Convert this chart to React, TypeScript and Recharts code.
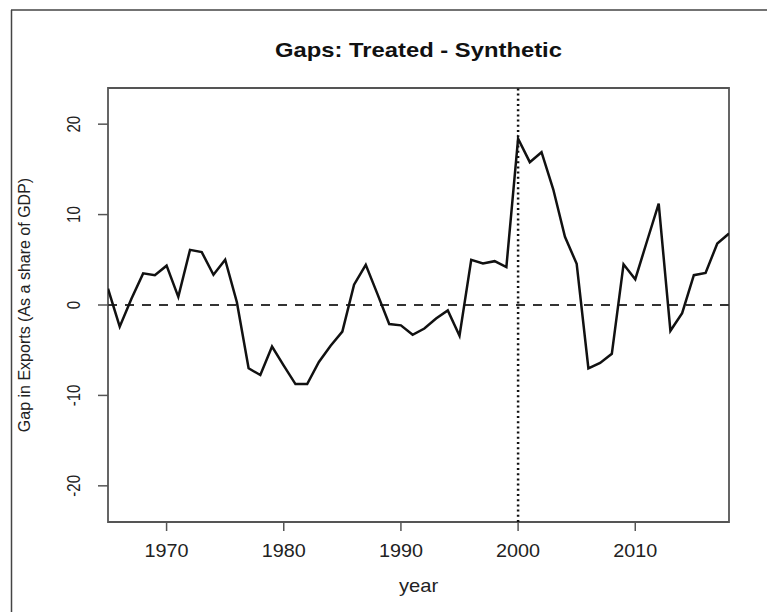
import { LineChart, Line, XAxis, YAxis, ReferenceLine, ReferenceArea } from "recharts";

const years = [
  1965, 1966, 1967, 1968, 1969, 1970, 1971, 1972, 1973, 1974,
  1975, 1976, 1977, 1978, 1979, 1980, 1981, 1982, 1983, 1984,
  1985, 1986, 1987, 1988, 1989, 1990, 1991, 1992, 1993, 1994,
  1995, 1996, 1997, 1998, 1999, 2000, 2001, 2002, 2003, 2004,
  2005, 2006, 2007, 2008, 2009, 2010, 2011, 2012, 2013, 2014,
  2015, 2016, 2017, 2018,
];

// gap in exports, treated minus synthetic (share of GDP)
const gaps = [
  1.8, -2.4, 0.7, 3.5, 3.3, 4.35, 0.9, 6.1, 5.85, 3.35,
  5.0, 0.3, -7.0, -7.75, -4.6, -6.7, -8.75, -8.75, -6.3, -4.5,
  -2.95, 2.25, 4.45, 1.2, -2.1, -2.25, -3.3, -2.6, -1.5, -0.6,
  -3.4, 5.0, 4.6, 4.85, 4.2, 18.4, 15.8, 16.9, 12.8, 7.55,
  4.55, -7.0, -6.4, -5.4, 4.5, 2.85, 7.05, 11.2, -2.85, -0.9,
  3.3, 3.55, 6.8, 7.9,
];

const xTicks = [1970, 1980, 1990, 2000, 2010];
const yTicks = [-20, -10, 0, 10, 20];
const xDomain = [1965, 2018];
const yDomain = [-24, 24];
const treatmentYear = 2000;

const data = years.map((year, i) => ({ year, gap: gaps[i] }));

const FONT = '"Liberation Sans", Arial, sans-serif';
const INK = "#222";

const XTick = (props: any) => {
  const { x, y, payload } = props;
  return (
    <text
      transform={`translate(${x},${y + 25.5}) scale(1.1,1)`}
      textAnchor="middle"
      fontFamily={FONT}
      fontSize={18}
      fill={INK}
    >
      {payload.value}
    </text>
  );
};

const YTick = (props: any) => {
  const { x, y, payload } = props;
  return (
    <text
      transform={`translate(${x - 18},${y}) scale(1.25,1) rotate(-90)`}
      textAnchor="middle"
      fontFamily={FONT}
      fontSize={15}
      fill={INK}
    >
      {payload.value}
    </text>
  );
};

export default function App() {
  return (
    <div
      style={{
        position: "fixed",
        left: 0,
        top: 0,
        width: 767,
        height: 612,
        background: "#fff",
      }}
    >
      <svg
        width={767}
        height={612}
        style={{ position: "absolute", left: 0, top: 0, pointerEvents: "none" }}
      >
        <line x1={11.5} y1={10} x2={11.5} y2={612} stroke="#444" strokeWidth={1.5} />
        <line x1={11} y1={10} x2={767} y2={10} stroke="#444" strokeWidth={1.5} />
        <text
          transform="translate(418.5,57.3) scale(1.22,1)"
          textAnchor="middle"
          fontFamily={FONT}
          fontWeight="bold"
          fontSize={19.5}
          fill="#111"
        >
          Gaps: Treated - Synthetic
        </text>
      </svg>
      <LineChart
        width={767}
        height={612}
        data={data}
        margin={{ top: 88, right: 38, bottom: 0, left: 0 }}
        style={{ position: "absolute", left: 0, top: 0 }}
      >
        <XAxis
          dataKey="year"
          type="number"
          domain={xDomain}
          ticks={xTicks}
          allowDataOverflow
          height={90}
          axisLine={false}
          tickSize={9}
          tickMargin={0}
          tickLine={{ stroke: "#555", strokeWidth: 1.5 }}
          tick={<XTick />}
          label={{
            content: (p: any) => {
              const vb = p.viewBox || { x: 108, y: 522, width: 621 };
              return (
                <text
                  transform={`translate(${vb.x + vb.width / 2},${vb.y + 70.3}) scale(1.12,1)`}
                  textAnchor="middle"
                  fontFamily={FONT}
                  fontSize={18}
                  fill={INK}
                >
                  year
                </text>
              );
            },
          }}
        />
        <YAxis
          type="number"
          domain={yDomain}
          ticks={yTicks}
          allowDataOverflow
          width={108}
          axisLine={false}
          tickSize={10}
          tickMargin={0}
          tickLine={{ stroke: "#555", strokeWidth: 1.5 }}
          tick={<YTick />}
          label={{
            content: (p: any) => {
              const vb = p.viewBox || { x: 0, y: 88, width: 108, height: 434 };
              return (
                <text
                  transform={`translate(29.5,${vb.y + vb.height / 2}) rotate(-90)`}
                  textAnchor="middle"
                  fontFamily={FONT}
                  fontSize={16}
                  fill={INK}
                >
                  Gap in Exports (As a share of GDP)
                </text>
              );
            },
          }}
        />
        <ReferenceArea
          x1={xDomain[0]}
          x2={xDomain[1]}
          y1={yDomain[0]}
          y2={yDomain[1]}
          fill="none"
          stroke="#555"
          strokeWidth={1.8}
          ifOverflow="visible"
        />
        <ReferenceLine y={0} stroke="#333" strokeWidth={2.2} strokeDasharray="9 8" />
        <ReferenceLine x={treatmentYear} stroke="#111" strokeWidth={2.5} strokeDasharray="2 3.2" />
        <Line
          type="linear"
          dataKey="gap"
          stroke="#111"
          strokeWidth={2.5}
          dot={false}
          isAnimationActive={false}
        />
      </LineChart>
    </div>
  );
}
